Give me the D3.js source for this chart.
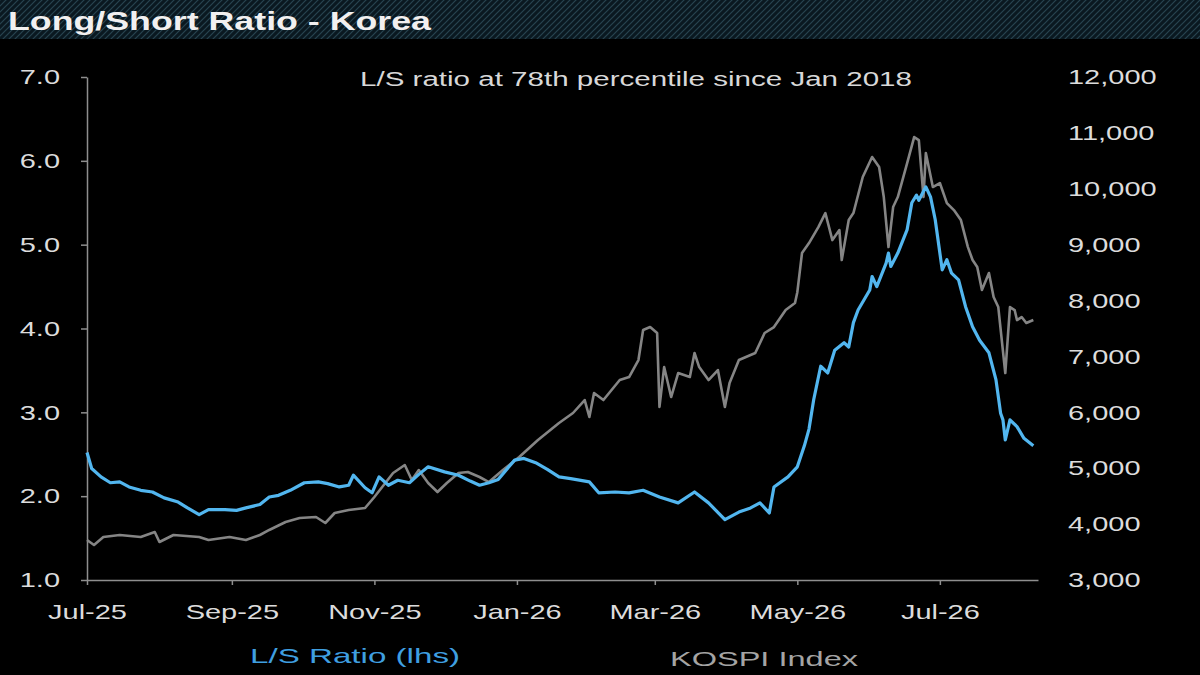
<!DOCTYPE html>
<html>
<head>
<meta charset="utf-8">
<script src="https://cdnjs.cloudflare.com/ajax/libs/d3/7.8.5/d3.min.js"></script>
<style>
body{margin:0;background:#000;}
svg{display:block;}
text{font-family:"Liberation Sans",Arial,sans-serif;}
</style>
</head>
<body>
<div id="chart"></div>
<script>
// L/S ratio (left axis)
var lsDates = ["2025-07-01","2025-07-03","2025-07-07","2025-07-11","2025-07-15","2025-07-19","2025-07-24","2025-07-29",
  "2025-08-03","2025-08-09","2025-08-13","2025-08-18","2025-08-22","2025-08-29","2025-09-03","2025-09-07","2025-09-13",
  "2025-09-17","2025-09-21","2025-09-26","2025-10-02","2025-10-08","2025-10-12","2025-10-17","2025-10-21","2025-10-23",
  "2025-10-28","2025-10-31","2025-11-03","2025-11-07","2025-11-11","2025-11-16","2025-11-20","2025-11-24","2025-12-01",
  "2025-12-07","2025-12-12","2025-12-16","2025-12-20","2025-12-24","2025-12-31","2026-01-04","2026-01-09","2026-01-14",
  "2026-01-19","2026-01-24","2026-02-01","2026-02-05","2026-02-12","2026-02-18","2026-02-24","2026-03-03","2026-03-11",
  "2026-03-18","2026-03-24","2026-03-31","2026-04-06","2026-04-11","2026-04-15","2026-04-19","2026-04-21","2026-04-27",
  "2026-05-01","2026-05-04","2026-05-06","2026-05-08","2026-05-11","2026-05-14","2026-05-17","2026-05-21","2026-05-23",
  "2026-05-25","2026-05-27","2026-06-01","2026-06-02","2026-06-04","2026-06-08","2026-06-09","2026-06-10","2026-06-13",
  "2026-06-17","2026-06-19","2026-06-21","2026-06-22","2026-06-25","2026-06-27","2026-06-29","2026-07-01","2026-07-02",
  "2026-07-04","2026-07-06","2026-07-09","2026-07-12","2026-07-15","2026-07-18","2026-07-22","2026-07-25","2026-07-27",
  "2026-07-28","2026-07-29","2026-07-31","2026-08-03","2026-08-06","2026-08-10"];
var lsValues = [2.52,2.33,2.23,2.16,2.17,2.11,2.07,2.05,
  1.98,1.93,1.86,1.78,1.84,1.84,1.83,1.86,1.90,
  1.99,2.01,2.07,2.16,2.17,2.15,2.11,2.13,2.25,
  2.10,2.04,2.23,2.13,2.19,2.16,2.26,2.35,2.29,
  2.25,2.18,2.13,2.16,2.20,2.43,2.45,2.40,2.32,
  2.23,2.21,2.17,2.04,2.05,2.04,2.07,1.99,1.92,
  2.05,1.92,1.72,1.81,1.86,1.92,1.80,2.11,2.23,
  2.35,2.60,2.80,3.15,3.55,3.47,3.74,3.83,3.78,
  4.07,4.22,4.46,4.62,4.50,4.78,4.90,4.74,4.90,
  5.18,5.50,5.59,5.53,5.69,5.57,5.30,4.90,4.70,
  4.82,4.66,4.58,4.26,4.02,3.86,3.71,3.39,2.99,
  2.91,2.67,2.91,2.83,2.69,2.60];

// KOSPI index (right axis)
var kospiDates = ["2025-07-01","2025-07-04","2025-07-08","2025-07-15","2025-07-24","2025-07-30","2025-08-01","2025-08-07",
  "2025-08-18","2025-08-22","2025-08-31","2025-09-07","2025-09-13","2025-09-17","2025-09-24","2025-09-30","2025-10-07",
  "2025-10-11","2025-10-15","2025-10-21","2025-10-28","2025-11-01","2025-11-05","2025-11-09","2025-11-14","2025-11-17",
  "2025-11-20","2025-11-24","2025-11-28","2025-12-02","2025-12-07","2025-12-11","2025-12-16","2025-12-20","2025-12-26",
  "2026-01-02","2026-01-10","2026-01-19","2026-01-25","2026-01-30","2026-02-01","2026-02-03","2026-02-07","2026-02-14",
  "2026-02-18","2026-02-22","2026-02-24","2026-02-27","2026-03-02","2026-03-03","2026-03-05","2026-03-08","2026-03-11",
  "2026-03-16","2026-03-18","2026-03-20","2026-03-24","2026-03-28","2026-03-31","2026-04-02","2026-04-06","2026-04-13",
  "2026-04-17","2026-04-21","2026-04-26","2026-04-30","2026-05-01","2026-05-03","2026-05-06","2026-05-10","2026-05-13",
  "2026-05-16","2026-05-19","2026-05-20","2026-05-23","2026-05-25","2026-05-29","2026-06-02","2026-06-05","2026-06-07",
  "2026-06-09","2026-06-11","2026-06-13","2026-06-17","2026-06-20","2026-06-22","2026-06-24","2026-06-25","2026-06-28",
  "2026-07-01","2026-07-04","2026-07-07","2026-07-10","2026-07-13","2026-07-15","2026-07-17","2026-07-19","2026-07-22",
  "2026-07-24","2026-07-26","2026-07-29","2026-07-31","2026-08-02","2026-08-03","2026-08-05","2026-08-07","2026-08-10"];
var kospiValues = [3716,3626,3770,3805,3770,3859,3680,3805,
  3770,3716,3770,3716,3805,3895,4038,4109,4127,
  4020,4199,4252,4288,4485,4700,4914,5057,4789,
  4968,4735,4574,4735,4914,4932,4843,4753,4968,
  5200,5505,5809,5988,6220,5916,6345,6220,6578,
  6632,6936,7473,7526,7419,6096,6810,6274,6703,
  6632,7061,6810,6578,6757,6096,6524,6936,7061,
  7419,7526,7830,7955,8150,8850,9029,9315,9565,
  9082,9261,8725,9440,9565,10210,10568,10389,9852,
  8957,9673,9852,10460,10925,10872,9852,10639,10031,
  10103,9744,9619,9440,8957,8725,8600,8188,8492,
  8063,7884,6703,7884,7830,7651,7705,7598,7651];

var xTickDates = ["2025-07-01","2025-09-01","2025-11-01","2026-01-01","2026-03-01","2026-05-01","2026-07-01"];
var leftTicks = [1,2,3,4,5,6,7];
var rightTicks = [3000,4000,5000,6000,7000,8000,9000,10000,11000,12000];

var width = 1200, height = 675;
var SX = 1.38; // the source picture is stretched sideways
var parse = d3.timeParse("%Y-%m-%d");

var svg = d3.select("#chart").append("svg")
    .attr("width", width)
    .attr("height", height);

svg.append("rect").attr("width", width).attr("height", height).attr("fill", "#000");

// hatched title band
var pat = svg.append("defs").append("pattern")
    .attr("id", "hatch")
    .attr("patternUnits", "userSpaceOnUse")
    .attr("width", 6).attr("height", 6);
pat.append("rect").attr("width", 6).attr("height", 6).attr("fill", "#0a1820");
pat.append("path").attr("d", "M0,6 L6,0 M-1,1 L1,-1 M5,7 L7,5")
    .attr("stroke", "#27434f").attr("stroke-width", 1.2);
svg.append("rect").attr("x", 0).attr("y", 0).attr("width", width).attr("height", 39)
    .attr("fill", "url(#hatch)");

svg.append("text")
    .attr("x", 8).attr("y", 30)
    .attr("font-size", 26).attr("font-weight", "bold")
    .attr("fill", "#f2f0f0")
    .attr("textLength", 423).attr("lengthAdjust", "spacingAndGlyphs")
    .text("Long/Short Ratio - Korea");

var x = d3.scaleTime()
    .domain([parse("2025-07-01"), parse("2026-08-12")])
    .range([87, 1038]);
var yLeft = d3.scaleLinear().domain([1, 7]).range([580, 77]);
var yRight = d3.scaleLinear().domain([3000, 12000]).range([580, 77]);

function stretch(sel){
  sel.each(function(){
    var t = d3.select(this);
    var xv = +t.attr("x") || 0;
    t.attr("x", xv / SX).attr("transform", "scale(" + SX + ",1)");
  });
}

function styleAxis(g){
  g.selectAll(".domain").attr("stroke", "#8e8e8e").attr("stroke-width", 1.5);
  g.selectAll(".tick line").attr("stroke", "#8e8e8e").attr("stroke-width", 1.5);
  g.selectAll(".tick text")
    .attr("fill", "#dcdcdc")
    .attr("font-size", 21)
    .attr("font-family", "Liberation Sans, Arial, sans-serif");
}

// left axis
var gl = svg.append("g")
    .attr("transform", "translate(87,0)")
    .call(d3.axisLeft(yLeft).tickValues(leftTicks).tickFormat(d3.format(".1f"))
      .tickSize(6).tickSizeOuter(0).tickPadding(21));
styleAxis(gl);
stretch(gl.selectAll(".tick text"));

// bottom axis
var gb = svg.append("g")
    .attr("transform", "translate(0,580)")
    .call(d3.axisBottom(x).tickValues(xTickDates.map(parse)).tickFormat(d3.timeFormat("%b-%y"))
      .tickSize(5).tickSizeOuter(0).tickPadding(19));
styleAxis(gb);
stretch(gb.selectAll(".tick text"));

// right axis, labels only
var gr = svg.append("g")
    .attr("transform", "translate(1068,0)")
    .call(d3.axisRight(yRight).tickValues(rightTicks).tickFormat(d3.format(","))
      .tickSize(0).tickPadding(0));
styleAxis(gr);
gr.select(".domain").remove();
stretch(gr.selectAll(".tick text"));

var kospiData = kospiDates.map(function(d, i){ return {date: parse(d), value: kospiValues[i]}; });
var lsData = lsDates.map(function(d, i){ return {date: parse(d), value: lsValues[i]}; });

var kospiLine = d3.line()
    .x(function(d){ return x(d.date); })
    .y(function(d){ return yRight(d.value); });
var lsLine = d3.line()
    .x(function(d){ return x(d.date); })
    .y(function(d){ return yLeft(d.value); });

svg.append("path")
    .datum(kospiData)
    .attr("d", kospiLine)
    .attr("fill", "none")
    .attr("stroke", "#858585")
    .attr("stroke-width", 2.6)
    .attr("stroke-linejoin", "round");

svg.append("path")
    .datum(lsData)
    .attr("d", lsLine)
    .attr("fill", "none")
    .attr("stroke", "#52b6ef")
    .attr("stroke-width", 3.2)
    .attr("stroke-linejoin", "round");

// note and legend
svg.append("text")
    .attr("x", 360).attr("y", 86)
    .attr("font-size", 20).attr("fill", "#d8d8d8")
    .attr("textLength", 552).attr("lengthAdjust", "spacingAndGlyphs")
    .text("L/S ratio at 78th percentile since Jan 2018");

svg.append("text")
    .attr("x", 250).attr("y", 663)
    .attr("font-size", 21).attr("fill", "#3f9fe0")
    .attr("textLength", 210).attr("lengthAdjust", "spacingAndGlyphs")
    .text("L/S Ratio (lhs)");

svg.append("text")
    .attr("x", 670).attr("y", 666)
    .attr("font-size", 21).attr("fill", "#a4a4a4")
    .attr("textLength", 188).attr("lengthAdjust", "spacingAndGlyphs")
    .text("KOSPI Index");
</script>
</body>
</html>
